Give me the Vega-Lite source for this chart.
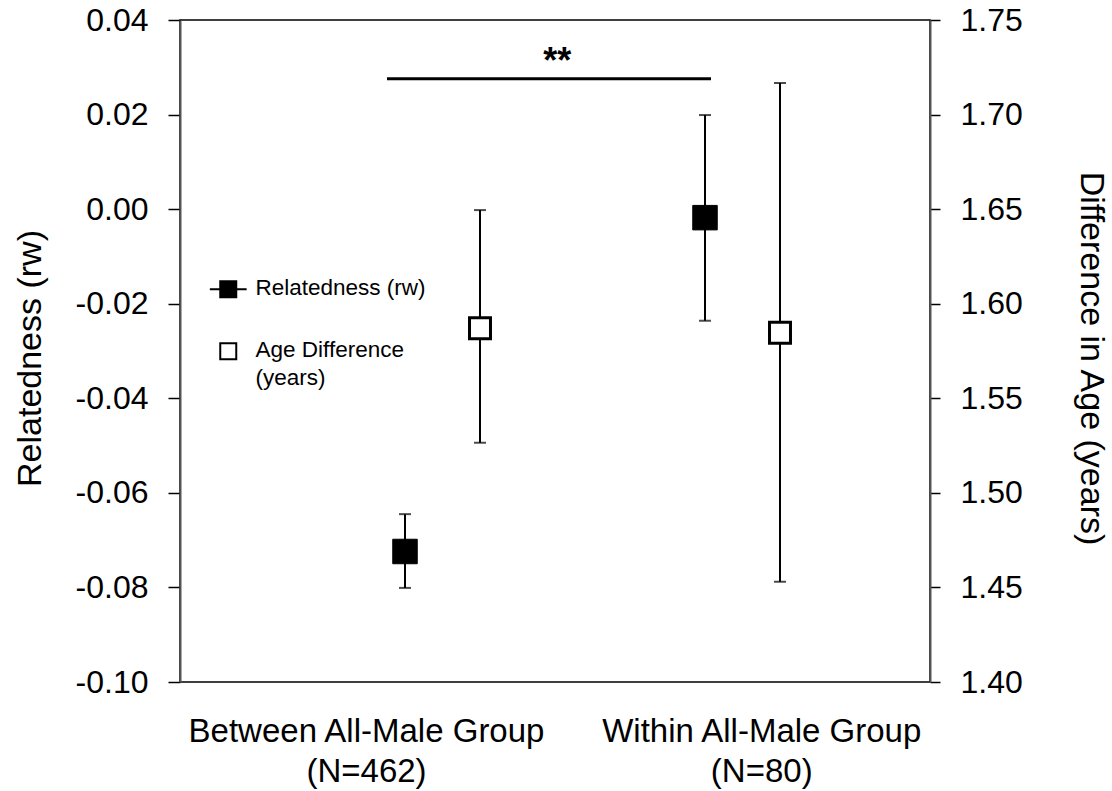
{
  "$schema": "https://vega.github.io/schema/vega-lite/v6.json",
  "width": 750,
  "height": 662,
  "autosize": {"type": "none"},
  "padding": {"left": 180, "top": 20, "right": 182, "bottom": 109},
  "background": "white",
  "config": {
    "locale": {"number": {"decimal": ".", "thousands": ",", "grouping": [3], "currency": ["$", ""], "minus": "-"}},
    "font": "Liberation Sans",
    "view": {"stroke": "black", "strokeWidth": 1.5},
    "axis": {"grid": false, "labelFont": "Liberation Sans", "titleFont": "Liberation Sans", "labelColor": "black", "titleColor": "black", "titleFontWeight": "normal", "tickColor": "black", "domainColor": "#555", "domainWidth": 2, "tickWidth": 1.5}
  },
  "datasets": {
    "stats": [
      {"group": "Between All-Male Group", "measure": "Relatedness (rw)", "x": 0.3, "mean": -0.0724, "lo": -0.0801, "hi": -0.0645},
      {"group": "Within All-Male Group", "measure": "Relatedness (rw)", "x": 0.7, "mean": -0.0018, "lo": -0.0236, "hi": 0.0199},
      {"group": "Between All-Male Group", "measure": "Age Difference (years)", "x": 0.4, "mean": 1.587, "lo": 1.5265, "hi": 1.6495},
      {"group": "Within All-Male Group", "measure": "Age Difference (years)", "x": 0.8, "mean": 1.5846, "lo": 1.453, "hi": 1.7167}
    ],
    "sig": [
      {"from": 0.276, "to": 0.708, "y": 0.0276, "label": "**", "mid": 0.503}
    ]
  },
  "layer": [
    {
      "layer": [
        {
          "data": {"name": "stats"},
          "transform": [{"filter": "datum.measure === 'Relatedness (rw)'"}],
          "mark": {"type": "rule", "color": "black", "strokeWidth": 2},
          "encoding": {
            "x": {"field": "x", "type": "quantitative", "scale": {"domain": [0, 1], "nice": false, "zero": false},
              "axis": {"values": [0.248, 0.775], "title": null, "domain": false, "ticks": false, "labelFontSize": 33, "labelPadding": 33, "labelLineHeight": 40, "labelBaseline": "top", "labelFlush": false, "labelLimit": 0, "labelOverlap": false,
                "labelExpr": "datum.value < 0.5 ? ['Between All-Male Group', '(N=462)'] : ['Within All-Male Group', '(N=80)']"}},
            "y": {"field": "lo", "type": "quantitative", "scale": {"domain": [-0.1, 0.04], "nice": false, "zero": false},
              "axis": {"orient": "left", "values": [-0.1, -0.08, -0.06, -0.04, -0.02, 0, 0.02, 0.04], "format": ".2f", "labelFontSize": 32, "tickSize": 12, "labelPadding": 20, "title": "Relatedness (rw)", "titleFontSize": 34, "titleAngle": -90, "titleX": -150, "titleY": 338, "titleAlign": "center", "titleBaseline": "middle"}},
            "y2": {"field": "hi"}
          }
        },
        {
          "data": {"name": "stats"},
          "transform": [{"filter": "datum.measure === 'Relatedness (rw)'"}],
          "mark": {"type": "tick", "orient": "horizontal", "color": "black", "size": 12, "thickness": 2},
          "encoding": {
            "x": {"field": "x", "type": "quantitative"},
            "y": {"field": "lo", "type": "quantitative"}
          }
        },
        {
          "data": {"name": "stats"},
          "transform": [{"filter": "datum.measure === 'Relatedness (rw)'"}],
          "mark": {"type": "tick", "orient": "horizontal", "color": "black", "size": 12, "thickness": 2},
          "encoding": {
            "x": {"field": "x", "type": "quantitative"},
            "y": {"field": "hi", "type": "quantitative"}
          }
        },
        {
          "data": {"name": "stats"},
          "transform": [{"filter": "datum.measure === 'Relatedness (rw)'"}],
          "mark": {"type": "point", "shape": "square", "filled": true, "size": 600, "opacity": 1, "stroke": "black", "strokeWidth": 1},
          "encoding": {
            "x": {"field": "x", "type": "quantitative"},
            "y": {"field": "mean", "type": "quantitative"},
            "fill": {"field": "measure", "type": "nominal", "scale": {"domain": ["Relatedness (rw)", "Age Difference (years)"], "range": ["black", "white"]},
              "legend": {"orient": "none", "legendX": 37, "legendY": 258, "title": null, "labelFontSize": 22.5, "labelFont": "Liberation Sans", "labelColor": "black", "symbolSize": 256, "symbolStrokeColor": "black", "symbolStrokeWidth": 2, "labelOffset": 16, "rowPadding": 37, "labelLimit": 400, "symbolOpacity": 1,
                "labelExpr": "datum.label === 'Age Difference (years)' ? ['Age Difference', '(years)'] : datum.label",
                "labelBaseline": "top",
                "encode": {
                  "labels": {"update": {"dy": {"value": -12}, "lineHeight": {"value": 28}}},
                  "symbols": {"update": {"shape": {"signal": "datum.label === 'Relatedness (rw)' ? 'M-1,-1H1V1H-1Z M-2.3,0H2.3' : 'square'"}}}
                }}}
          }
        },
        {
          "data": {"name": "sig"},
          "mark": {"type": "rule", "color": "black", "strokeWidth": 3},
          "encoding": {
            "x": {"field": "from", "type": "quantitative"},
            "x2": {"field": "to"},
            "y": {"field": "y", "type": "quantitative"}
          }
        },
        {
          "data": {"name": "sig"},
          "mark": {"type": "text", "fontSize": 36, "fontWeight": "bold", "baseline": "alphabetic", "dy": -6, "color": "black"},
          "encoding": {
            "x": {"field": "mid", "type": "quantitative"},
            "y": {"field": "y", "type": "quantitative"},
            "text": {"field": "label"}
          }
        }
      ]
    },
    {
      "layer": [
        {
          "data": {"name": "stats"},
          "transform": [{"filter": "datum.measure === 'Age Difference (years)'"}],
          "mark": {"type": "rule", "color": "black", "strokeWidth": 2},
          "encoding": {
            "x": {"field": "x", "type": "quantitative"},
            "y": {"field": "lo", "type": "quantitative", "scale": {"domain": [1.4, 1.75], "nice": false, "zero": false},
              "axis": {"orient": "right", "values": [1.4, 1.45, 1.5, 1.55, 1.6, 1.65, 1.7, 1.75], "format": ".2f", "labelFontSize": 32, "tickSize": 10, "labelPadding": 20, "title": "Difference in Age (years)", "titleFontSize": 34, "titleAngle": 90, "titleX": 160, "titleY": 338, "titleAlign": "center", "titleBaseline": "middle"}},
            "y2": {"field": "hi"}
          }
        },
        {
          "data": {"name": "stats"},
          "transform": [{"filter": "datum.measure === 'Age Difference (years)'"}],
          "mark": {"type": "tick", "orient": "horizontal", "color": "black", "size": 12, "thickness": 2},
          "encoding": {
            "x": {"field": "x", "type": "quantitative"},
            "y": {"field": "lo", "type": "quantitative"}
          }
        },
        {
          "data": {"name": "stats"},
          "transform": [{"filter": "datum.measure === 'Age Difference (years)'"}],
          "mark": {"type": "tick", "orient": "horizontal", "color": "black", "size": 12, "thickness": 2},
          "encoding": {
            "x": {"field": "x", "type": "quantitative"},
            "y": {"field": "hi", "type": "quantitative"}
          }
        },
        {
          "data": {"name": "stats"},
          "transform": [{"filter": "datum.measure === 'Age Difference (years)'"}],
          "mark": {"type": "point", "shape": "square", "filled": true, "size": 440, "opacity": 1, "stroke": "black", "strokeWidth": 3},
          "encoding": {
            "x": {"field": "x", "type": "quantitative"},
            "y": {"field": "mean", "type": "quantitative"},
            "fill": {"field": "measure", "type": "nominal"}
          }
        }
      ]
    }
  ],
  "resolve": {"scale": {"y": "independent"}}
}
